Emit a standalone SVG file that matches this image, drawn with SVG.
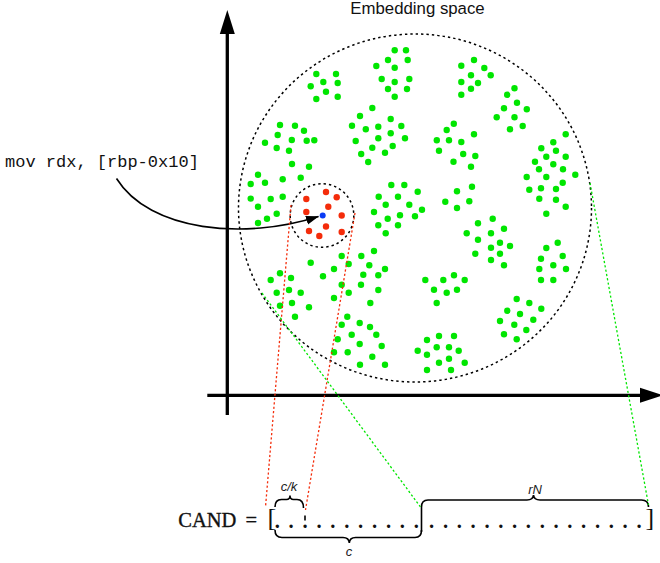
<svg xmlns="http://www.w3.org/2000/svg" width="660" height="563" viewBox="0 0 660 563">
<style>
.ax{stroke:#000;stroke-width:3.3;fill:none}
.axh{fill:#000}
.ring{fill:none;stroke:#000;stroke-width:1.5;stroke-dasharray:2.4 3}
.gd circle{fill:#00e600}
.rd circle{fill:#f42c0a}
.bl{fill:#0a3cf5}
.rl{fill:none;stroke:#f42c0a;stroke-width:1.3;stroke-dasharray:2.2 2.2}
.gl{fill:none;stroke:#00e600;stroke-width:1.3;stroke-dasharray:2.2 2.2}
.cur{fill:none;stroke:#000;stroke-width:1.6}
.brace{fill:none;stroke:#000;stroke-width:1.6}
.title{font-family:"Liberation Sans",Arial,sans-serif;font-size:16.8px;fill:#111}
.mono{font-family:"Liberation Mono","Courier New",monospace;font-size:17px;fill:#111}
.serif{font-family:"Liberation Serif","Times New Roman",serif;fill:#111}
.cand{stroke:#111;stroke-width:0.35}
.dots{font-weight:bold}
.lab{font-family:"Liberation Sans",Arial,sans-serif;font-style:italic;font-size:13px;fill:#222}
</style>
<defs>
<marker id="ah" markerUnits="userSpaceOnUse" markerWidth="14" markerHeight="10" refX="12.5" refY="4.5" orient="auto">
<path d="M0,0 L13,4.5 L0,9 z" fill="#000"/>
</marker>
</defs>

<g id="axes">
<line class="ax" x1="227.3" y1="30" x2="227.3" y2="415"/>
<polygon class="axh" points="227.3,10 219.8,34 234.8,34"/>
<line class="ax" x1="207.3" y1="395.3" x2="645" y2="395.3"/>
<polygon class="axh" points="663,395.3 640,387.8 640,402.8"/>
</g>

<g id="title">
<text class="title" x="417.5" y="14" text-anchor="middle">Embedding space</text>
</g>

<g id="embedding-space">
<ellipse class="ring" cx="415" cy="208" rx="176.5" ry="174"/>
<g class="gd">
<circle cx="316.3" cy="74" r="3.2"/><circle cx="336" cy="74" r="3.2"/><circle cx="323.3" cy="82" r="3.2"/><circle cx="337.7" cy="83" r="3.2"/><circle cx="310.7" cy="86.3" r="3.2"/><circle cx="326" cy="91.7" r="3.2"/><circle cx="316.3" cy="99" r="3.2"/><circle cx="337.7" cy="96.7" r="3.2"/>
<circle cx="394.7" cy="50.3" r="3.2"/><circle cx="406" cy="50.3" r="3.2"/><circle cx="388" cy="60" r="3.2"/><circle cx="407.7" cy="60" r="3.2"/><circle cx="376.3" cy="66" r="3.2"/><circle cx="394.7" cy="67.7" r="3.2"/><circle cx="381.7" cy="79" r="3.2"/><circle cx="394.7" cy="82" r="3.2"/><circle cx="409.3" cy="79" r="3.2"/><circle cx="388" cy="89" r="3.2"/><circle cx="407" cy="89" r="3.2"/><circle cx="394.7" cy="96.7" r="3.2"/>
<circle cx="474" cy="60" r="3.2"/><circle cx="461.3" cy="65.7" r="3.2"/><circle cx="484.3" cy="68" r="3.2"/><circle cx="490.7" cy="75.3" r="3.2"/><circle cx="471" cy="75.3" r="3.2"/><circle cx="461.3" cy="82" r="3.2"/><circle cx="478" cy="83" r="3.2"/><circle cx="471" cy="88.8" r="3.2"/><circle cx="461.3" cy="94.8" r="3.2"/>
<circle cx="514.5" cy="88.2" r="3.2"/><circle cx="507.2" cy="94.8" r="3.2"/><circle cx="517" cy="102.7" r="3.2"/><circle cx="504" cy="108.2" r="3.2"/><circle cx="526.8" cy="109.3" r="3.2"/><circle cx="496.7" cy="117.3" r="3.2"/><circle cx="514.5" cy="117.2" r="3.2"/><circle cx="522.7" cy="126" r="3.2"/><circle cx="510" cy="129.3" r="3.2"/>
<circle cx="372.3" cy="108" r="3.2"/><circle cx="360" cy="116" r="3.2"/><circle cx="390.7" cy="119" r="3.2"/><circle cx="352" cy="125.7" r="3.2"/><circle cx="365.8" cy="129.2" r="3.2"/><circle cx="378.3" cy="126.8" r="3.2"/><circle cx="401.3" cy="126" r="3.2"/><circle cx="390.7" cy="133.3" r="3.2"/><circle cx="378.3" cy="138.2" r="3.2"/><circle cx="405" cy="138.2" r="3.2"/><circle cx="355.7" cy="141" r="3.2"/><circle cx="372.3" cy="147.8" r="3.2"/><circle cx="392.7" cy="146" r="3.2"/><circle cx="385" cy="152.7" r="3.2"/><circle cx="361.2" cy="154" r="3.2"/><circle cx="368.2" cy="162" r="3.2"/>
<circle cx="453.8" cy="123.7" r="3.2"/><circle cx="446.7" cy="130" r="3.2"/><circle cx="474" cy="134.3" r="3.2"/><circle cx="436.8" cy="140.2" r="3.2"/><circle cx="449" cy="140.2" r="3.2"/><circle cx="461.3" cy="142" r="3.2"/><circle cx="439" cy="150.7" r="3.2"/><circle cx="463.2" cy="154" r="3.2"/><circle cx="475.3" cy="156" r="3.2"/><circle cx="453.5" cy="161.8" r="3.2"/><circle cx="471" cy="166.8" r="3.2"/>
<circle cx="280" cy="125" r="3.2"/><circle cx="295" cy="125.7" r="3.2"/><circle cx="304" cy="130.8" r="3.2"/><circle cx="277.7" cy="135" r="3.2"/><circle cx="291.8" cy="140" r="3.2"/><circle cx="306.7" cy="140.7" r="3.2"/><circle cx="314.3" cy="140.2" r="3.2"/><circle cx="265" cy="142.7" r="3.2"/><circle cx="276.7" cy="148" r="3.2"/><circle cx="289" cy="150.7" r="3.2"/><circle cx="292" cy="164" r="3.2"/><circle cx="309" cy="166.7" r="3.2"/>
<circle cx="258" cy="174.7" r="3.2"/><circle cx="282.7" cy="179.3" r="3.2"/><circle cx="300.7" cy="177.7" r="3.2"/><circle cx="250.7" cy="184" r="3.2"/><circle cx="265" cy="182.8" r="3.2"/><circle cx="250.7" cy="198.6" r="3.2"/><circle cx="270.7" cy="199" r="3.2"/><circle cx="282.7" cy="196.7" r="3.2"/><circle cx="258" cy="206.7" r="3.2"/><circle cx="276.7" cy="213.7" r="3.2"/><circle cx="267" cy="218.7" r="3.2"/><circle cx="258" cy="223" r="3.2"/>
<circle cx="565.7" cy="134.3" r="3.2"/><circle cx="553.3" cy="142.3" r="3.2"/><circle cx="541.3" cy="148.3" r="3.2"/><circle cx="556" cy="150.7" r="3.2"/><circle cx="546.3" cy="156.7" r="3.2"/><circle cx="565.7" cy="156.7" r="3.2"/><circle cx="535" cy="161.7" r="3.2"/><circle cx="553.3" cy="164.3" r="3.2"/><circle cx="539" cy="169.3" r="3.2"/><circle cx="563" cy="169.3" r="3.2"/><circle cx="575.3" cy="174.7" r="3.2"/><circle cx="526.7" cy="177" r="3.2"/><circle cx="546.3" cy="177" r="3.2"/><circle cx="562.7" cy="182.7" r="3.2"/><circle cx="529.3" cy="189.7" r="3.2"/><circle cx="541" cy="188.3" r="3.2"/><circle cx="556" cy="189" r="3.2"/><circle cx="539.3" cy="198.7" r="3.2"/><circle cx="556" cy="199.7" r="3.2"/><circle cx="565.7" cy="206.7" r="3.2"/><circle cx="546.3" cy="213.7" r="3.2"/>
<circle cx="391.3" cy="185" r="3.2"/><circle cx="404.3" cy="185" r="3.2"/><circle cx="378.7" cy="196.7" r="3.2"/><circle cx="398" cy="196.7" r="3.2"/><circle cx="417.7" cy="191.7" r="3.2"/><circle cx="385.7" cy="204.7" r="3.2"/><circle cx="409.3" cy="204.7" r="3.2"/><circle cx="374" cy="212" r="3.2"/><circle cx="422" cy="209.7" r="3.2"/><circle cx="387.7" cy="218.7" r="3.2"/><circle cx="400" cy="215.3" r="3.2"/><circle cx="415" cy="216.3" r="3.2"/><circle cx="378.3" cy="225.3" r="3.2"/><circle cx="398" cy="225.3" r="3.2"/><circle cx="385.7" cy="233.3" r="3.2"/>
<circle cx="472" cy="186.7" r="3.2"/><circle cx="457" cy="191.3" r="3.2"/><circle cx="445.3" cy="201.7" r="3.2"/><circle cx="469.3" cy="201.3" r="3.2"/><circle cx="457" cy="208" r="3.2"/>
<circle cx="492.7" cy="218.7" r="3.2"/><circle cx="478" cy="223.3" r="3.2"/><circle cx="504" cy="228.7" r="3.2"/><circle cx="466.7" cy="233.3" r="3.2"/><circle cx="491" cy="233.3" r="3.2"/><circle cx="478" cy="239.7" r="3.2"/><circle cx="500" cy="242.7" r="3.2"/><circle cx="510" cy="246" r="3.2"/><circle cx="491" cy="247.7" r="3.2"/><circle cx="475.3" cy="253.7" r="3.2"/><circle cx="500" cy="253.7" r="3.2"/><circle cx="491" cy="260" r="3.2"/><circle cx="504" cy="265.3" r="3.2"/>
<circle cx="557.7" cy="242.7" r="3.2"/><circle cx="546.3" cy="248" r="3.2"/><circle cx="562.7" cy="256" r="3.2"/><circle cx="541" cy="258.7" r="3.2"/><circle cx="553.3" cy="265.3" r="3.2"/><circle cx="566" cy="269" r="3.2"/><circle cx="539.3" cy="269" r="3.2"/><circle cx="541" cy="280" r="3.2"/><circle cx="553.3" cy="280" r="3.2"/>
<circle cx="341.7" cy="256" r="3.2"/><circle cx="361.3" cy="256" r="3.2"/><circle cx="374" cy="251" r="3.2"/><circle cx="348.7" cy="264" r="3.2"/><circle cx="369.3" cy="265.3" r="3.2"/><circle cx="385" cy="269" r="3.2"/><circle cx="334" cy="269" r="3.2"/><circle cx="323" cy="276.3" r="3.2"/><circle cx="363.3" cy="274.7" r="3.2"/><circle cx="378.3" cy="275.3" r="3.2"/><circle cx="341.7" cy="284.7" r="3.2"/><circle cx="361" cy="284.7" r="3.2"/><circle cx="378.3" cy="290" r="3.2"/><circle cx="348.7" cy="292.7" r="3.2"/><circle cx="334" cy="298" r="3.2"/><circle cx="370.3" cy="303" r="3.2"/>
<circle cx="310.7" cy="262.7" r="3.2"/><circle cx="280" cy="273.3" r="3.2"/><circle cx="270.7" cy="280" r="3.2"/><circle cx="291" cy="278" r="3.2"/><circle cx="289" cy="290" r="3.2"/><circle cx="276.7" cy="292.7" r="3.2"/><circle cx="300.7" cy="292.7" r="3.2"/><circle cx="292" cy="303" r="3.2"/><circle cx="280" cy="305.7" r="3.2"/><circle cx="309" cy="307.3" r="3.2"/><circle cx="295" cy="316.7" r="3.2"/>
<circle cx="425.3" cy="280" r="3.2"/><circle cx="443.3" cy="280" r="3.2"/><circle cx="454" cy="275.3" r="3.2"/><circle cx="464.7" cy="280" r="3.2"/><circle cx="434" cy="289.7" r="3.2"/><circle cx="446.7" cy="292.7" r="3.2"/><circle cx="457" cy="289.7" r="3.2"/><circle cx="436.7" cy="303" r="3.2"/>
<circle cx="347.3" cy="316.7" r="3.2"/><circle cx="341.7" cy="324.7" r="3.2"/><circle cx="359.7" cy="323" r="3.2"/><circle cx="370" cy="327" r="3.2"/><circle cx="351.7" cy="334.7" r="3.2"/><circle cx="376.3" cy="334.7" r="3.2"/><circle cx="337.7" cy="339.3" r="3.2"/><circle cx="359.7" cy="344" r="3.2"/><circle cx="381.7" cy="346" r="3.2"/><circle cx="334" cy="352.3" r="3.2"/><circle cx="347.7" cy="352.3" r="3.2"/><circle cx="372.3" cy="356.7" r="3.2"/><circle cx="360" cy="364.7" r="3.2"/><circle cx="385" cy="364.7" r="3.2"/>
<circle cx="439" cy="336" r="3.2"/><circle cx="454" cy="336" r="3.2"/><circle cx="427" cy="340" r="3.2"/><circle cx="436.7" cy="347.3" r="3.2"/><circle cx="449" cy="347.3" r="3.2"/><circle cx="458.7" cy="350.7" r="3.2"/><circle cx="417.7" cy="350.7" r="3.2"/><circle cx="427" cy="354.7" r="3.2"/><circle cx="449" cy="358.7" r="3.2"/><circle cx="439" cy="362.7" r="3.2"/><circle cx="464.7" cy="362.7" r="3.2"/><circle cx="427" cy="370" r="3.2"/><circle cx="451" cy="370" r="3.2"/>
<circle cx="516.7" cy="299" r="3.2"/><circle cx="529.3" cy="303" r="3.2"/><circle cx="507.3" cy="310.7" r="3.2"/><circle cx="520" cy="314" r="3.2"/><circle cx="541.3" cy="308.7" r="3.2"/><circle cx="500" cy="321" r="3.2"/><circle cx="514.3" cy="324.7" r="3.2"/><circle cx="533.3" cy="319.7" r="3.2"/><circle cx="526.3" cy="330" r="3.2"/><circle cx="504" cy="334.3" r="3.2"/><circle cx="516.7" cy="339.3" r="3.2"/>
</g>
</g>

<g id="neighborhood">
<circle class="ring" cx="322" cy="215.5" r="31.8"/>
<g class="rd">
<circle cx="326" cy="192" r="3.2"/><circle cx="336.7" cy="197.3" r="3.2"/><circle cx="306.3" cy="199" r="3.2"/><circle cx="328.3" cy="206.7" r="3.2"/><circle cx="306.3" cy="212" r="3.2"/><circle cx="341.7" cy="215.5" r="3.2"/><circle cx="326" cy="226.5" r="3.2"/><circle cx="309" cy="231" r="3.2"/><circle cx="341.7" cy="232" r="3.2"/><circle cx="319.3" cy="236" r="3.2"/>
</g>
<circle class="bl" cx="322.7" cy="215.6" r="3"/>
</g>

<g id="instruction">
<text class="mono" x="5" y="167">mov rdx, [rbp-0x10]</text>
</g>

<g id="cand-array">
<text class="serif cand" x="178.3" y="527" font-size="20.5">CAND</text>
<text class="serif cand" x="245.5" y="527" font-size="20.5">=</text>
<text class="serif" x="267.5" y="526" font-size="26">[</text>
<text class="serif" x="645.5" y="526" font-size="26">]</text>
<text class="serif dots" font-size="20.5" y="527.5" x="274.7 288.6 302.5 316.4 330.3 344.2 358.1 372 385.9 399.8 413.7">...........</text>
<text class="serif dots" font-size="20.5" y="527.5" x="429.1 442.9 456.7 470.6 484.4 498.2 512 525.8 539.7 553.5 567.3 581.1 594.9 608.8 622.6 636.4">................</text>
<path class="brace" d="M275,507 Q275,499.5 281.5,499.5 L286.5,499.5 Q290,499.5 290,495.5 Q290,499.5 293.5,499.5 L297,499.5 Q303.5,499.5 303.5,508"/>
<line class="brace" x1="305" y1="515.5" x2="305" y2="520.5"/>
<path class="brace" d="M275,530 Q275,537.5 282,537.5 L343,537.5 Q349,537.5 349.3,543 Q349.6,537.5 355.6,537.5 L415,537.5 Q421.5,537.5 421.5,530"/>
<path class="brace" d="M421.5,532 L421.5,507 Q421.5,500 428,500 L527,500 Q533,500 533.5,495 Q534,500 540,500 L641.5,500 Q648.5,500 648.5,507"/>
<text class="lab" x="289" y="490.5" text-anchor="middle">c/k</text>
<text class="lab" x="349" y="556" text-anchor="middle">c</text>
<text class="lab" x="535" y="493.5" text-anchor="middle">rN</text>
</g>

<g id="connectors">
<path class="cur" d="M116.5,178.5 C150,232 245,240 318.5,216.5" marker-end="url(#ah)"/>
<line class="rl" x1="291" y1="205" x2="265.5" y2="507"/>
<line class="rl" x1="355" y1="213" x2="305.5" y2="510"/>
<line class="gl" x1="262" y1="293" x2="420.5" y2="507"/>
<line class="gl" x1="590" y1="183" x2="648.5" y2="505"/>
</g>
</svg>
